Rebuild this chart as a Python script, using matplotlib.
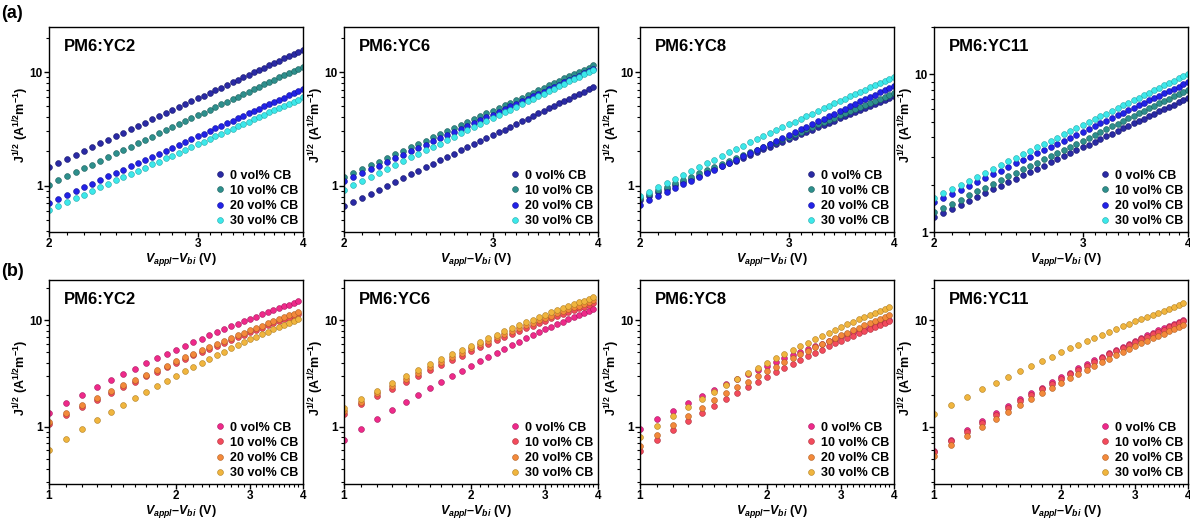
import matplotlib
matplotlib.use('Agg')
import matplotlib.pyplot as plt
from matplotlib.ticker import FixedLocator, NullFormatter, LogLocator, FixedFormatter

plt.rcParams.update({
    'font.family': ['Liberation Sans', 'DejaVu Sans'],
    'font.weight': 'bold',
    'mathtext.fontset': 'custom',
    'mathtext.rm': 'Liberation Sans:bold',
    'mathtext.it': 'Liberation Sans:italic:bold',
    'mathtext.bf': 'Liberation Sans:bold',
    'axes.linewidth': 1.0,
})

# ---------------- data ----------------
x_a = [2.00, 2.05, 2.10, 2.15, 2.20, 2.25, 2.30, 2.35, 2.40, 2.45, 2.50, 2.55, 2.60, 2.65,
       2.70, 2.75, 2.80, 2.85, 2.90, 2.95, 3.00, 3.05, 3.10, 3.15, 3.20, 3.25, 3.30, 3.35,
       3.40, 3.45, 3.50, 3.55, 3.60, 3.65, 3.70, 3.75, 3.80, 3.85, 3.90, 3.95, 4.00]
x_a_yc6 = [2.00, 2.05, 2.10, 2.15, 2.20, 2.25, 2.30, 2.35, 2.40, 2.45, 2.50, 2.55, 2.60, 2.65,
           2.70, 2.75, 2.80, 2.85, 2.90, 2.95, 3.00, 3.05, 3.10, 3.15, 3.20, 3.25, 3.30, 3.35,
           3.40, 3.45, 3.50, 3.55, 3.60, 3.65, 3.70, 3.75, 3.80, 3.85, 3.90, 3.95]
x_b = [1.0, 1.1, 1.2, 1.3, 1.4, 1.5, 1.6, 1.7, 1.8, 1.9, 2.0, 2.1, 2.2, 2.3, 2.4,
       2.5, 2.6, 2.7, 2.8, 2.9, 3.0, 3.1, 3.2, 3.3, 3.4, 3.5, 3.6, 3.7, 3.8, 3.9]

# (a) rows
a2_0 = [1.46, 1.59, 1.72, 1.87, 2.02, 2.18, 2.36, 2.54, 2.72, 2.93, 3.14, 3.36, 3.59, 3.83, 4.08,
        4.35, 4.62, 4.91, 5.22, 5.53, 5.86, 6.20, 6.56, 6.92, 7.31, 7.70, 8.12, 8.55, 8.99, 9.46,
        9.94, 10.4, 10.9, 11.5, 12.0, 12.6, 13.2, 13.8, 14.4, 15.0, 15.7]
a2_10 = [1.02, 1.11, 1.21, 1.31, 1.42, 1.53, 1.66, 1.78, 1.92, 2.06, 2.21, 2.37, 2.53, 2.70, 2.88,
         3.07, 3.27, 3.48, 3.69, 3.92, 4.15, 4.39, 4.65, 4.91, 5.19, 5.47, 5.77, 6.08, 6.40, 6.73,
         7.07, 7.43, 7.80, 8.18, 8.57, 8.98, 9.40, 9.83, 10.3, 10.7, 11.2]
a2_20 = [0.705, 0.765, 0.829, 0.896, 0.968, 1.04, 1.12, 1.21, 1.29, 1.38, 1.48, 1.58, 1.69, 1.80,
         1.91, 2.03, 2.16, 2.29, 2.43, 2.57, 2.72, 2.87, 3.03, 3.20, 3.37, 3.55, 3.73, 3.92, 4.12,
         4.33, 4.54, 4.76, 4.99, 5.22, 5.46, 5.71, 5.97, 6.23, 6.51, 6.79, 7.08]
a2_30 = [0.607, 0.658, 0.713, 0.770, 0.831, 0.895, 0.963, 1.03, 1.11, 1.19, 1.27, 1.35, 1.44, 1.54,
         1.63, 1.74, 1.84, 1.95, 2.07, 2.19, 2.31, 2.44, 2.58, 2.72, 2.86, 3.01, 3.17, 3.33, 3.50,
         3.67, 3.85, 4.04, 4.23, 4.42, 4.63, 4.84, 5.05, 5.28, 5.50, 5.74, 5.98]

a6_0 = [0.658, 0.718, 0.782, 0.850, 0.923, 0.999, 1.08, 1.17, 1.26, 1.35, 1.45, 1.56, 1.67, 1.79,
        1.91, 2.04, 2.17, 2.31, 2.46, 2.61, 2.78, 2.94, 3.12, 3.30, 3.49, 3.69, 3.89, 4.11, 4.33,
        4.56, 4.80, 5.05, 5.30, 5.57, 5.85, 6.13, 6.43, 6.73, 7.05, 7.37]
a6_10 = [1.18, 1.28, 1.39, 1.51, 1.63, 1.75, 1.89, 2.03, 2.17, 2.33, 2.49, 2.66, 2.84, 3.02, 3.22,
         3.42, 3.63, 3.86, 4.09, 4.33, 4.57, 4.83, 5.10, 5.38, 5.67, 5.97, 6.29, 6.61, 6.94, 7.29,
         7.65, 8.02, 8.40, 8.80, 9.21, 9.63, 10.07, 10.51, 10.98, 11.45]
a6_20 = [1.09, 1.19, 1.29, 1.39, 1.50, 1.62, 1.74, 1.87, 2.01, 2.15, 2.30, 2.46, 2.62, 2.80, 2.98,
         3.16, 3.36, 3.57, 3.78, 4.00, 4.23, 4.47, 4.72, 4.98, 5.25, 5.53, 5.82, 6.12, 6.43, 6.75,
         7.08, 7.43, 7.78, 8.15, 8.53, 8.92, 9.33, 9.74, 10.17, 10.61]
a6_30 = [0.923, 1.01, 1.10, 1.19, 1.30, 1.40, 1.52, 1.64, 1.77, 1.90, 2.05, 2.20, 2.35, 2.52, 2.69,
         2.88, 3.07, 3.27, 3.48, 3.70, 3.93, 4.17, 4.41, 4.67, 4.94, 5.22, 5.52, 5.82, 6.14, 6.47,
         6.81, 7.16, 7.53, 7.91, 8.30, 8.71, 9.13, 9.57, 10.02, 10.48]

a8_0 = [0.753, 0.812, 0.873, 0.937, 1.005, 1.075, 1.149, 1.226, 1.306, 1.391, 1.478, 1.569, 1.664,
        1.762, 1.865, 1.971, 2.081, 2.195, 2.314, 2.437, 2.563, 2.695, 2.830, 2.971, 3.115, 3.264,
        3.418, 3.577, 3.740, 3.909, 4.082, 4.262, 4.445, 4.635, 4.829, 5.028, 5.234, 5.444, 5.660,
        5.883, 6.110]
a8_10 = [0.780, 0.841, 0.906, 0.973, 1.045, 1.119, 1.197, 1.279, 1.364, 1.453, 1.546, 1.643, 1.744,
         1.848, 1.958, 2.070, 2.188, 2.311, 2.437, 2.568, 2.704, 2.845, 2.990, 3.140, 3.295, 3.456,
         3.622, 3.792, 3.968, 4.150, 4.337, 4.531, 4.729, 4.934, 5.144, 5.359, 5.582, 5.809, 6.044,
         6.285, 6.532]
a8_20 = [0.681, 0.742, 0.807, 0.875, 0.948, 1.025, 1.107, 1.193, 1.284, 1.379, 1.479, 1.585, 1.696,
         1.812, 1.934, 2.061, 2.194, 2.334, 2.479, 2.632, 2.790, 2.955, 3.126, 3.305, 3.492, 3.684,
         3.886, 4.095, 4.311, 4.536, 4.768, 5.010, 5.259, 5.518, 5.785, 6.061, 6.348, 6.642, 6.947,
         7.261, 7.586]
a8_30 = [0.805, 0.884, 0.966, 1.054, 1.148, 1.247, 1.351, 1.461, 1.577, 1.698, 1.826, 1.960, 2.100,
         2.247, 2.400, 2.560, 2.727, 2.901, 3.082, 3.270, 3.465, 3.668, 3.877, 4.096, 4.320, 4.552,
         4.793, 5.042, 5.299, 5.563, 5.838, 6.119, 6.408, 6.709, 7.015, 7.329, 7.655, 7.986, 8.327,
         8.678, 9.037]

a11_0 = [1.245, 1.324, 1.407, 1.492, 1.581, 1.672, 1.767, 1.865, 1.966, 2.071, 2.178, 2.289, 2.403,
         2.521, 2.642, 2.766, 2.894, 3.026, 3.161, 3.299, 3.441, 3.587, 3.736, 3.889, 4.046, 4.206,
         4.370, 4.539, 4.710, 4.886, 5.066, 5.250, 5.435, 5.627, 5.823, 6.021, 6.226, 6.433, 6.644,
         6.860, 7.080]
a11_10 = [1.334, 1.421, 1.513, 1.607, 1.706, 1.808, 1.913, 2.023, 2.136, 2.253, 2.374, 2.499, 2.627,
          2.760, 2.897, 3.037, 3.181, 3.331, 3.484, 3.642, 3.803, 3.969, 4.139, 4.315, 4.494, 4.676,
          4.866, 5.059, 5.255, 5.458, 5.665, 5.876, 6.092, 6.314, 6.541, 6.770, 7.007, 7.246, 7.493,
          7.743, 7.999]
a11_20 = [1.549, 1.649, 1.752, 1.860, 1.971, 2.086, 2.205, 2.329, 2.455, 2.587, 2.723, 2.862, 3.006,
          3.155, 3.307, 3.464, 3.626, 3.794, 3.963, 4.138, 4.317, 4.502, 4.690, 4.884, 5.082, 5.285,
          5.493, 5.706, 5.923, 6.146, 6.374, 6.607, 6.844, 7.088, 7.337, 7.589, 7.849, 8.112, 8.380,
          8.654, 8.933]
a11_30 = [1.652, 1.762, 1.876, 1.995, 2.119, 2.247, 2.380, 2.517, 2.659, 2.806, 2.958, 3.116, 3.277,
          3.444, 3.617, 3.794, 3.977, 4.166, 4.359, 4.558, 4.762, 4.973, 5.188, 5.409, 5.637, 5.868,
          6.108, 6.352, 6.602, 6.860, 7.122, 7.391, 7.665, 7.947, 8.236, 8.527, 8.829, 9.135, 9.448,
          9.768, 10.09]

# (b) rows
b2_0 = [1.36, 1.67, 2.00, 2.35, 2.73, 3.12, 3.53, 3.96, 4.39, 4.85, 5.31, 5.78, 6.27, 6.75, 7.25,
        7.76, 8.27, 8.79, 9.30, 9.83, 10.36, 10.89, 11.42, 11.96, 12.49, 13.03, 13.56, 14.10, 14.64, 15.18]
b2_10 = [1.06, 1.29, 1.53, 1.80, 2.07, 2.36, 2.66, 2.98, 3.30, 3.64, 3.98, 4.33, 4.69, 5.06, 5.43,
         5.81, 6.19, 6.58, 6.97, 7.37, 7.77, 8.17, 8.58, 8.99, 9.40, 9.81, 10.23, 10.64, 11.06, 11.48]
b2_20 = [1.10, 1.34, 1.59, 1.86, 2.15, 2.45, 2.76, 3.09, 3.43, 3.77, 4.13, 4.50, 4.87, 5.25, 5.64,
         6.04, 6.44, 6.85, 7.26, 7.68, 8.10, 8.52, 8.95, 9.39, 9.82, 10.26, 10.70, 11.14, 11.58, 12.03]
b2_30 = [0.608, 0.773, 0.958, 1.161, 1.381, 1.619, 1.872, 2.141, 2.423, 2.718, 3.027, 3.347, 3.678,
         4.018, 4.368, 4.729, 5.097, 5.470, 5.852, 6.241, 6.635, 7.034, 7.439, 7.849, 8.261, 8.680,
         9.099, 9.522, 9.950, 10.38]

b6_0 = [0.755, 0.960, 1.190, 1.442, 1.715, 2.011, 2.325, 2.658, 3.008, 3.375, 3.758, 4.155, 4.567,
        4.989, 5.424, 5.871, 6.330, 6.792, 7.266, 7.749, 8.237, 8.735, 9.237, 9.746, 10.26, 10.78,
        11.30, 11.82, 12.35, 12.89]
b6_10 = [1.333, 1.630, 1.949, 2.289, 2.648, 3.023, 3.416, 3.824, 4.244, 4.675, 5.120, 5.572, 6.038,
         6.502, 6.982, 7.468, 7.952, 8.448, 8.933, 9.444, 9.946, 10.45, 10.96, 11.48, 11.98, 12.49,
         13.01, 13.52, 14.02, 14.54]
b6_20 = [1.412, 1.728, 2.069, 2.434, 2.815, 3.217, 3.639, 4.074, 4.526, 4.986, 5.465, 5.944, 6.434,
         6.929, 7.433, 7.941, 8.457, 8.975, 9.491, 10.03, 10.56, 11.10, 11.64, 12.17, 12.72, 13.24,
         13.79, 14.32, 14.87, 15.40]
b6_30 = [1.496, 1.831, 2.192, 2.578, 2.982, 3.408, 3.855, 4.316, 4.795, 5.282, 5.789, 6.303, 6.830,
         7.363, 7.907, 8.457, 9.016, 9.578, 10.14, 10.72, 11.29, 11.88, 12.46, 13.04, 13.63, 14.21,
         14.80, 15.38, 15.97, 16.56]

b8_0 = [0.950, 1.172, 1.410, 1.665, 1.931, 2.212, 2.501, 2.800, 3.106, 3.421, 3.741, 4.063, 4.390,
        4.722, 5.055, 5.389, 5.726, 6.060, 6.396, 6.733, 7.068, 7.404, 7.731, 8.064, 8.395, 8.712,
        9.042, 9.364, 9.684, 9.997]
b8_10 = [0.591, 0.754, 0.936, 1.135, 1.352, 1.585, 1.833, 2.096, 2.372, 2.661, 2.963, 3.274, 3.595,
         3.928, 4.267, 4.615, 4.972, 5.331, 5.699, 6.073, 6.451, 6.827, 7.201, 7.584, 7.968, 8.343,
         8.733, 9.113, 9.499, 9.874]
b8_20 = [0.663, 0.846, 1.050, 1.274, 1.517, 1.779, 2.057, 2.352, 2.662, 2.987, 3.326, 3.674, 4.035,
         4.409, 4.789, 5.180, 5.580, 5.983, 6.396, 6.816, 7.240, 7.671, 8.100, 8.540, 8.983, 9.417,
         9.868, 10.32, 10.77, 11.22]
b8_30 = [0.794, 1.012, 1.256, 1.525, 1.815, 2.129, 2.462, 2.815, 3.186, 3.575, 3.980, 4.397, 4.829,
         5.276, 5.731, 6.199, 6.678, 7.160, 7.654, 8.157, 8.664, 9.180, 9.693, 10.22, 10.75, 11.27,
         11.81, 12.35, 12.89, 13.43]

b11_0 = [0.592, 0.752, 0.929, 1.125, 1.336, 1.565, 1.809, 2.068, 2.341, 2.627, 2.924, 3.232, 3.554,
         3.882, 4.225, 4.578, 4.936, 5.301, 5.671, 6.055, 6.444, 6.839, 7.241, 7.648, 8.058, 8.465,
         8.886, 9.307, 9.736, 10.17]
b11_10 = [0.575, 0.730, 0.902, 1.092, 1.297, 1.519, 1.756, 2.008, 2.273, 2.550, 2.839, 3.138, 3.450,
          3.769, 4.102, 4.445, 4.792, 5.147, 5.506, 5.879, 6.256, 6.640, 7.030, 7.425, 7.823, 8.218,
          8.627, 9.036, 9.452, 9.871]
b11_20 = [0.526, 0.668, 0.825, 0.999, 1.187, 1.390, 1.607, 1.837, 2.080, 2.333, 2.598, 2.871, 3.157,
          3.449, 3.753, 4.067, 4.385, 4.710, 5.038, 5.379, 5.724, 6.076, 6.432, 6.794, 7.158, 7.519,
          7.894, 8.268, 8.649, 9.032]
b11_30 = [1.315, 1.604, 1.914, 2.246, 2.598, 2.965, 3.347, 3.745, 4.153, 4.578, 5.013, 5.457, 5.912,
          6.371, 6.842, 7.318, 7.802, 8.290, 8.783, 9.285, 9.784, 10.29, 10.80, 11.32, 11.83, 12.35,
          12.86, 13.38, 13.90, 14.44]

titles = ['PM6:YC2', 'PM6:YC6', 'PM6:YC8', 'PM6:YC11']
series_labels = ['0 vol% CB', '10 vol% CB', '20 vol% CB', '30 vol% CB']
x_ticks_a = [2, 3, 4]
x_tick_labels_a = ['2', '3', '4']
x_ticks_b = [1, 2, 3, 4]
x_tick_labels_b = ['1', '2', '3', '4']
y_ticks = [1, 10]
y_tick_labels = ['1', '10']

colors_a = ['#2a2aa4', '#2e8f8c', '#2222e6', '#3ce8ea']
edges_a = ['#15156a', '#1b5e5c', '#12129a', '#22a8aa']
colors_b = ['#ee2a8a', '#f24b5c', '#f3893b', '#f0b53e']
edges_b = ['#a8165e', '#b02e3a', '#b05e20', '#b07e20']

row_a = [(x_a, [a2_0, a2_10, a2_20, a2_30], (0.39, 25)),
         (x_a_yc6, [a6_0, a6_10, a6_20, a6_30], (0.39, 25)),
         (x_a, [a8_0, a8_10, a8_20, a8_30], (0.39, 25)),
         (x_a, [a11_0, a11_10, a11_20, a11_30], (1, 20))]
row_b = [(x_b, [b2_0, b2_10, b2_20, b2_30], (0.29, 24)),
         (x_b, [b6_0, b6_10, b6_20, b6_30], (0.29, 24)),
         (x_b, [b8_0, b8_10, b8_20, b8_30], (0.29, 24)),
         (x_b, [b11_0, b11_10, b11_20, b11_30], (0.29, 24))]

# ---------------- layout ----------------
FW, FH = 1190, 519
fig = plt.figure(figsize=(FW / 100, FH / 100), dpi=100)
lefts = [49, 344, 640, 934]
W = 254
rows = [(27, 232, row_a, (2, 4), x_ticks_a, x_tick_labels_a, colors_a, edges_a),
        (280, 484, row_b, (1, 4), x_ticks_b, x_tick_labels_b, colors_b, edges_b)]

for top, bot, rdata, xlim, xt, xtl, cols, edgs in rows:
    for k in range(4):
        xs, ys_list, ylim = rdata[k]
        ax = fig.add_axes([lefts[k] / FW, 1 - bot / FH, W / FW, (bot - top) / FH])
        for j in range(4):
            ax.plot(xs, ys_list[j], linestyle='none', marker='o', markersize=4.2,
                    markerfacecolor=cols[j], markeredgecolor=edgs[j], markeredgewidth=0.4,
                    label=series_labels[j])
        ax.set_xscale('log')
        ax.set_yscale('log')
        ax.set_xlim(*xlim)
        ax.set_ylim(*ylim)
        ax.xaxis.set_major_locator(FixedLocator(xt))
        ax.xaxis.set_major_formatter(FixedFormatter(xtl))
        if xlim[0] == 2:
            minors = [2 + 0.1 * i for i in range(1, 20) if i != 10]
        else:
            minors = [1 + 0.1 * i for i in range(1, 30) if i not in (10, 20)]
        ax.xaxis.set_minor_locator(FixedLocator(minors))
        ax.xaxis.set_minor_formatter(NullFormatter())
        ax.yaxis.set_major_locator(FixedLocator(y_ticks))
        ax.yaxis.set_major_formatter(FixedFormatter(y_tick_labels))
        ax.yaxis.set_minor_locator(LogLocator(base=10, subs=[2, 3, 4, 5, 6, 7, 8, 9]))
        ax.yaxis.set_minor_formatter(NullFormatter())
        ax.tick_params(which='major', direction='out', length=3.5, width=1.0,
                       labelsize=8.5, pad=1.0)
        ax.tick_params(which='minor', direction='out', length=2, width=0.8)
        for lab in ax.get_xticklabels() + ax.get_yticklabels():
            lab.set_fontweight('bold')
        ax.text(0.06, 0.905, titles[k], transform=ax.transAxes, fontsize=12,
                fontweight='bold', va='center', ha='left')
        ax.set_ylabel(r'J$^{1/2}$ (A$^{1/2}$m$^{-1}$)', fontsize=9, fontweight='bold')
        ax.yaxis.set_label_coords(-0.07, 0.52)
        ax.set_xlabel(r'$V_{appl}$–$V_{bi}$ (V)', fontsize=9, fontweight='bold')
        ax.xaxis.set_label_coords(0.52, -0.094)
        ax.legend(loc='lower right', frameon=False, prop={'weight': 'bold', 'size': 9},
                  handlelength=0.8, handletextpad=0.4, labelspacing=0.25,
                  borderaxespad=0.25, borderpad=0.15, markerscale=1.0)

fig.text(12 / FW, 1 - 14 / FH, '(a)', fontsize=13, fontweight='bold', ha='center', va='center')
fig.text(12 / FW, 1 - 272 / FH, '(b)', fontsize=13, fontweight='bold', ha='center', va='center')

fig.savefig('out.png', dpi=100)
